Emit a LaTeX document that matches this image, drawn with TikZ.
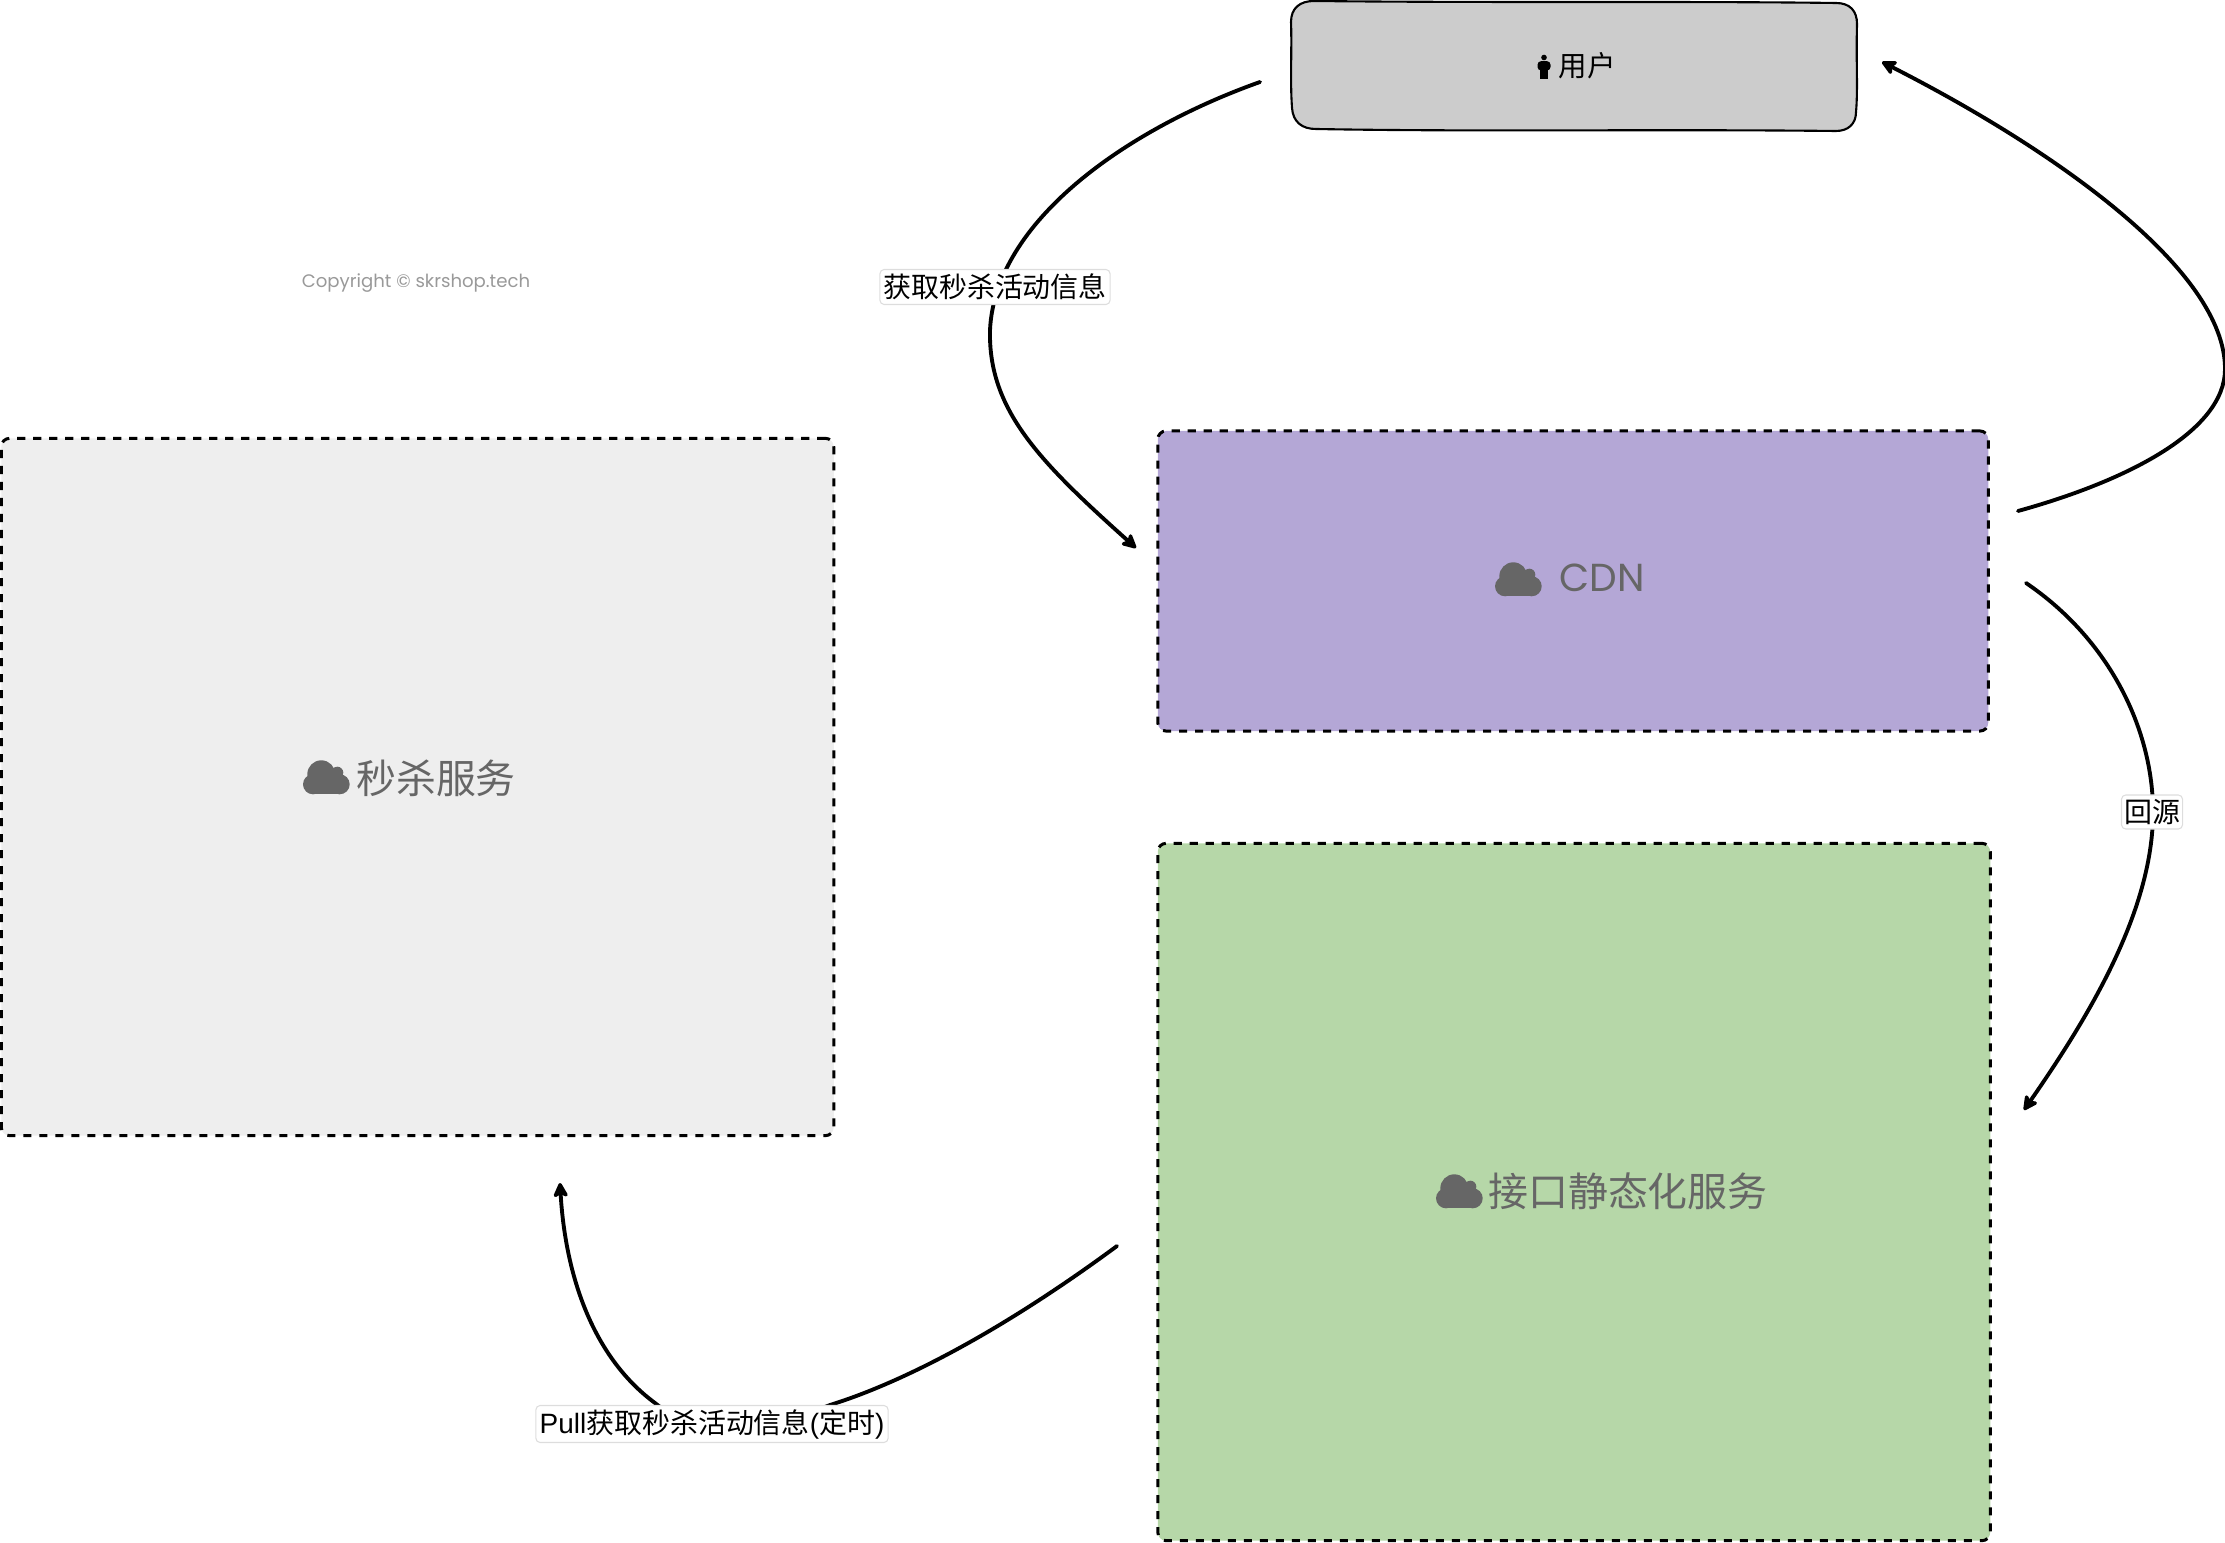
\documentclass[tikz,border=0pt]{standalone}
\usepackage{fontspec}
\usetikzlibrary{arrows.meta}
\setmainfont{Liberation Sans}
\newfontfamily\cjk{Noto Sans CJK SC}
\newfontfamily\pop{Poppins}
\definecolor{grayfill}{HTML}{EEEEEE}
\definecolor{purplefill}{HTML}{B4A7D6}
\definecolor{greenfill}{HTML}{B6D7A8}
\definecolor{userfill}{HTML}{CCCCCC}
\definecolor{icontext}{HTML}{666666}
\definecolor{copytext}{HTML}{999999}
\definecolor{labelline}{HTML}{DDDDDD}
\tikzset{
  panel/.style={draw=black,line width=0.85pt,dash pattern=on 2.3pt off 2.25pt,rounded corners=2.4pt,inner sep=0pt},
  flow/.style={draw=black,line width=1.1pt,line cap=round,-{Stealth[length=5pt,width=5pt,inset=1.2pt,round]}},
  edgelabel/.style={fill=white,draw=labelline,line width=0.3pt,rounded corners=1.2pt,inner sep=0pt,text=black,font=\fontsize{7.95pt}{9pt}\selectfont\cjk},
  bigtext/.style={text=icontext,inner sep=0pt,font=\fontsize{11.35pt}{13pt}\selectfont\cjk},
  cloudicon/.pic={
    \fill[icontext] (-4.7,-2.7) circle (14);
    \fill[icontext] (-13,7.3) circle (10);
    \fill[icontext] (13.7,7.3) circle (10);
    \fill[icontext] (11.3,-4.3) circle (6);
    \fill[icontext] (-13,2) rectangle (14,17.3);
  },
  personicon/.pic={
    \fill[black] (0,-9.5) circle (2.8);
    \fill[black,rounded corners=1pt] (-6.5,-5.8) rectangle (6.5,3.5);
    \fill[black] (-3.6,-5) rectangle (3.6,12);
  }
}
\begin{document}
\begin{tikzpicture}[x=0.01cm,y=-0.01cm]
\useasboundingbox (0,0) rectangle (2225,1543);
% panels
\node[panel,fill=grayfill,minimum width=8.32cm,minimum height=6.97cm] (seckill) at (417.5,787) {};
\node[panel,fill=purplefill,minimum width=8.30cm,minimum height=3.00cm] (cdn) at (1573,581) {};
\node[panel,fill=greenfill,minimum width=8.32cm,minimum height=6.97cm] (static) at (1574,1192) {};
% user box, slightly hand drawn
\filldraw[fill=userfill,draw=black,line width=0.6pt]
  (1291,22) .. controls (1291,8) and (1300,1) .. (1314,1)
  .. controls (1500,3) and (1680,1) .. (1836,3)
  .. controls (1850,3) and (1857,11) .. (1857,24)
  .. controls (1856,60) and (1858,90) .. (1856,112)
  .. controls (1856,124) and (1848,131) .. (1836,131)
  .. controls (1650,129) and (1480,132) .. (1316,129)
  .. controls (1302,129) and (1293,122) .. (1292,108)
  .. controls (1290,80) and (1292,50) .. (1291,22) -- cycle;
\node[inner sep=0pt,text=black,font=\fontsize{8.1pt}{9pt}\selectfont\cjk] (user) at (1587,66) {用户};
\pic at (1544,67) {personicon};
% texts
\node[text=copytext,inner sep=0pt,font=\fontsize{5.15pt}{6pt}\selectfont\pop] (copy) at (416,283) {Copyright © skrshop.tech};
\node[bigtext] (seckilltext) at (436,778) {秒杀服务};
\pic at (326,777) {cloudicon};
\node[text=icontext,inner sep=0pt,font=\fontsize{11.1pt}{13pt}\selectfont\pop] (cdntext) at (1602,578) {CDN};
\pic at (1518,579) {cloudicon};
\node[bigtext] (statictext) at (1628,1191) {接口静态化服务};
\pic at (1459,1191) {cloudicon};
% connector ends
\coordinate (getA) at (1260,82);
\coordinate (getM) at (990,330);
\coordinate (getB) at (1136,548);
\coordinate (backA) at (2018,511);
\coordinate (backM) at (2225,369);
\coordinate (backB) at (1882,62);
\coordinate (srcA) at (2026,583);
\coordinate (srcM) at (2153,812);
\coordinate (srcB) at (2024,1110);
\coordinate (pullA) at (1117,1246);
\coordinate (pullM) at (830,1405);
\coordinate (pullB) at (560,1183);
% connectors
\draw[flow] (getA) .. controls (1125,130) and (995,222) .. (getM)
  .. controls (988,410) and (1040,462) .. (getB);
\draw[flow] (backA) .. controls (2130,480) and (2225,430) .. (backM)
  .. controls (2225,270) and (2055,150) .. (backB);
\draw[flow] (srcA) .. controls (2110,640) and (2153,730) .. (srcM)
  .. controls (2153,910) and (2090,1015) .. (srcB);
\draw[flow] (pullA) .. controls (1010,1325) and (910,1380) .. (pullM)
  .. controls (760,1432) and (700,1440) .. (655,1403)
  .. controls (590,1355) and (565,1270) .. (pullB);
% labels
\node[edgelabel,minimum width=2.30cm,minimum height=0.35cm] (getlabel) at (995,287) {获取秒杀活动信息};
\node[edgelabel,minimum width=0.61cm,minimum height=0.34cm] (srclabel) at (2152,812) {回源};
\node[edgelabel,minimum width=3.52cm,minimum height=0.37cm] (pulllabel) at (712,1424) {{\rmfamily Pull}获取秒杀活动信息{\rmfamily (}定时{\rmfamily )}};
\end{tikzpicture}
\end{document}
